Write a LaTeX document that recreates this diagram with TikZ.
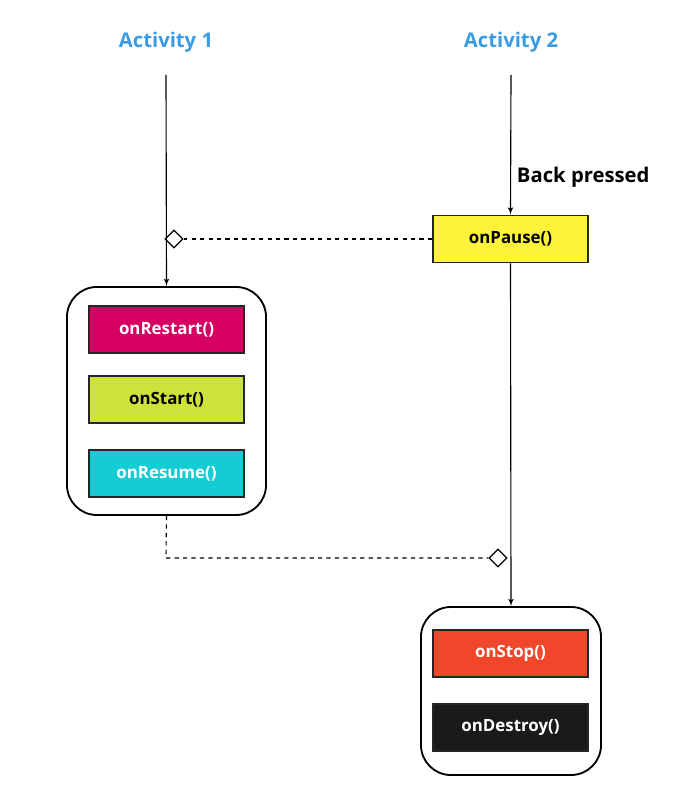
\documentclass[tikz,border=0pt]{standalone}
\usepackage{fontspec}
\setmainfont{Open Sans}
\usepackage{xcolor}
\usetikzlibrary{shapes,arrows,positioning}
\definecolor{actblue}{HTML}{3A9BE3}
\definecolor{restartc}{HTML}{D60062}
\definecolor{startc}{HTML}{CDE33C}
\definecolor{resumec}{HTML}{14CCD4}
\definecolor{pausec}{HTML}{FFF23A}
\definecolor{stopc}{HTML}{F0462A}
\definecolor{destroyc}{HTML}{1A1A1A}
\begin{document}
\begin{tikzpicture}[x=0.025cm, y=-0.025cm]
\tikzstyle{callback} = [rectangle, draw=black!85, line width=1.2pt, minimum width=3.875cm, minimum height=1.175cm, font=\bfseries\large]
\tikzstyle{group} = [rectangle, draw, line width=1.3pt, rounded corners=0.75cm]
\tikzstyle{title} = [font=\bfseries\Large, text=actblue]
\tikzstyle{line} = [draw, thick, -latex']
\tikzstyle{link} = [draw, thick, dashed]
\tikzstyle{dia} = [diamond, draw, fill=white, inner sep=0pt, minimum size=0.45cm, thick]

\useasboundingbox (0,0) rectangle (698,800);

\node [title] (act1) at (166,42) {Activity 1};
\node [title] (act2) at (511,42) {Activity 2};

\node [group, minimum width=4.975cm, minimum height=5.7cm] (grp1) at (166.5,401) {};
\node [group, minimum width=4.5cm, minimum height=4.2cm] (grp2) at (511,691) {};

\node [callback, fill=restartc, text=white] (restart) at (166.5,329.5) {onRestart()};
\node [callback, fill=startc] (start) at (166.5,399.5) {onStart()};
\node [callback, fill=resumec, text=white] (resume) at (166.5,473.5) {onResume()};
\node [callback, fill=pausec] (pause) at (510.5,239) {onPause()};
\node [callback, fill=stopc, text=white] (stop) at (510.5,653.5) {onStop()};
\node [callback, fill=destroyc, text=white] (destroy) at (510.5,727.5) {onDestroy()};

\node [anchor=west, font=\bfseries\Large] (back) at (512,177) {Back pressed};

\coordinate (top1) at (166,75);
\coordinate (top2) at (511,75);
\coordinate (bend) at (166,558);
\node [dia] (d1) at (174,239) {};
\node [dia] (d2) at (498,558) {};

\path [line] (top1) -- (grp1.north);
\path [line] (top2) -- (pause.north);
\path [line] (pause.south) -- (grp2.north);
\path [link] (pause.west) -- (d1.east);
\path [link] (grp1.south) -- (bend) -- (d2.west);
\end{tikzpicture}
\end{document}
